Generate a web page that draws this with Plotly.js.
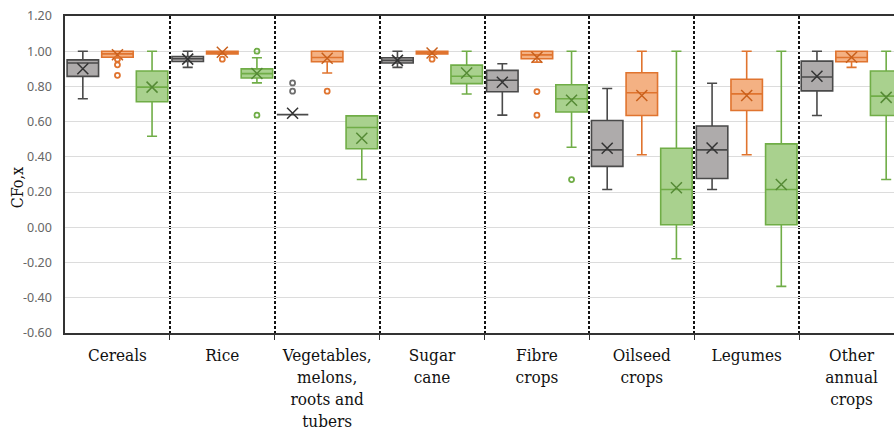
<!DOCTYPE html>
<html><head><meta charset="utf-8">
<script src="https://cdn.plot.ly/plotly-3.0.1.min.js"></script>
<style>html,body{margin:0;padding:0;overflow:hidden;background:#fff}</style>
</head><body><div id="chart" style="width:910px;height:432px"></div>
<script>
const categories = ["Cereals","Rice","Vegetables,<br>melons,<br>roots and<br>tubers","Sugar<br>cane","Fibre<br>crops","Oilseed<br>crops","Legumes","Other<br>annual<br>crops"];
const yTickVals = [-0.6,-0.4,-0.2,0,0.2,0.4,0.6,0.8,1.0,1.2];
const yTickText = ["-0.60","-0.40","-0.20","0.00","0.20","0.40","0.60","0.80","1.00","1.20"];

// Series 1 (grey)
const greyLower  = [0.730, 0.908, 0.640, 0.908, 0.637, 0.215, 0.215, 0.635];
const greyQ1     = [0.857, 0.942, 0.640, 0.933, 0.770, 0.346, 0.277, 0.775];
const greyMedian = [0.933, 0.957, 0.640, 0.948, 0.835, 0.440, 0.440, 0.854];
const greyQ3     = [0.951, 0.970, 0.640, 0.963, 0.891, 0.607, 0.575, 0.944];
const greyUpper  = [1.000, 1.000, 0.640, 1.000, 0.929, 0.788, 0.818, 1.000];
const greyMean   = [0.900, 0.955, 0.648, 0.948, 0.824, 0.449, 0.451, 0.858];
const greyOutliers = [[], [], [0.820, 0.773], [], [], [], [], []];

// Series 2 (orange)
const orangeLower  = [0.962, 0.983, 0.876, 0.983, 0.938, 0.412, 0.412, 0.908];
const orangeQ1     = [0.966, 0.985, 0.940, 0.985, 0.957, 0.635, 0.663, 0.940];
const orangeMedian = [0.985, 0.994, 0.964, 0.994, 0.979, 0.764, 0.758, 0.964];
const orangeQ3     = [1.000, 1.000, 1.000, 1.000, 1.000, 0.878, 0.841, 1.000];
const orangeUpper  = [1.000, 1.000, 1.000, 1.000, 1.000, 1.000, 1.000, 1.000];
const orangeMean   = [0.980, 0.994, 0.960, 0.990, 0.966, 0.749, 0.749, 0.966];
const orangeOutliers = [[0.955, 0.923, 0.863], [0.955], [0.773], [0.955], [0.771, 0.637], [], [], []];

// Series 3 (green)
const greenLower  = [0.517, 0.820, 0.272, 0.757, 0.455, -0.178, -0.335, 0.272];
const greenQ1     = [0.713, 0.848, 0.446, 0.816, 0.655, 0.015, 0.015, 0.635];
const greenMedian = [0.796, 0.873, 0.567, 0.858, 0.730, 0.215, 0.215, 0.745];
const greenQ3     = [0.888, 0.900, 0.633, 0.921, 0.810, 0.449, 0.474, 0.888];
const greenUpper  = [1.000, 0.963, 0.633, 1.000, 1.000, 1.000, 1.000, 1.000];
const greenMean   = [0.796, 0.873, 0.506, 0.876, 0.722, 0.225, 0.243, 0.738];
const greenOutliers = [[], [1.000, 0.637], [], [], [0.271], [], [], []];

const series = [
  {name:"Series 1", off:-0.33, fill:"#aeabab", line:"#4a4a4a", meanC:"#333333", outC:"#6e6e6e",
   lower:greyLower, q1:greyQ1, median:greyMedian, q3:greyQ3, upper:greyUpper, mean:greyMean, out:greyOutliers},
  {name:"Series 2", off:0, fill:"#f4b183", line:"#e0742f", meanC:"#c9601c", outC:"#e0742f",
   lower:orangeLower, q1:orangeQ1, median:orangeMedian, q3:orangeQ3, upper:orangeUpper, mean:orangeMean, out:orangeOutliers},
  {name:"Series 3", off:0.33, fill:"#a9d18e", line:"#70ad47", meanC:"#558a35", outC:"#70ad47",
   lower:greenLower, q1:greenQ1, median:greenMedian, q3:greenQ3, upper:greenUpper, mean:greenMean, out:greenOutliers}
];

const traces = [];
series.forEach(s => {
  const pos = categories.map((c, i) => i + s.off);
  traces.push({
    type:"box", name:s.name, x:pos,
    q1:s.q1, median:s.median, q3:s.q3, lowerfence:s.lower, upperfence:s.upper,
    width:0.30, whiskerwidth:0.32, boxpoints:false,
    fillcolor:s.fill, line:{color:s.line, width:1.6},
    showlegend:false, hoverinfo:"skip"
  });
  traces.push({
    type:"scatter", mode:"markers", x:pos, y:s.mean,
    marker:{symbol:"x-thin-open", size:11, color:s.meanC, line:{color:s.meanC, width:1.5}},
    showlegend:false, hoverinfo:"skip"
  });
  const ox = [], oy = [];
  s.out.forEach((arr, i) => arr.forEach(v => { ox.push(i + s.off); oy.push(v); }));
  traces.push({
    type:"scatter", mode:"markers", x:ox, y:oy,
    marker:{symbol:"circle-open", size:5, color:s.outC, line:{color:s.outC, width:1.8}},
    showlegend:false, hoverinfo:"skip"
  });
});

const boundaries = categories.slice(1).map((c, i) => i + 0.5);

const layout = {
  width:910, height:432,
  margin:{l:65, r:6, t:16, b:99},
  paper_bgcolor:"#fff", plot_bgcolor:"#fff",
  showlegend:false,
  xaxis:{
    range:[-0.5, categories.length - 0.5],
    tickmode:"array", tickvals:categories.map((c,i)=>i), ticktext:categories,
    ticks:"", showgrid:false, zeroline:false,
    showline:true, mirror:true, linecolor:"#333", linewidth:1.6,
    tickfont:{family:"'DejaVu Serif Condensed', 'DejaVu Serif', serif", size:17, color:"#111"},
    ticklabelstandoff:6,
    minor:{tickmode:"array", tickvals:boundaries, ticks:"outside", ticklen:5, tickcolor:"#333",
           showgrid:true, gridcolor:"#111", gridwidth:2, griddash:"3px,2px"}
  },
  yaxis:{
    range:[-0.6, 1.2], tickmode:"array", tickvals:yTickVals, ticktext:yTickText,
    ticks:"", showgrid:true, gridcolor:"#dcdcdc", gridwidth:1.2, zeroline:false,
    showline:true, mirror:true, linecolor:"#333", linewidth:1.6,
    tickfont:{family:"'Noto Sans', sans-serif", size:12.5, color:"#666"},
    ticklabelstandoff:9
  },
  annotations:[{
    text:"CFo,x", xref:"paper", yref:"paper", x:-0.057, y:0.457,
    textangle:-90, showarrow:false, xanchor:"center", yanchor:"middle",
    font:{family:"'DejaVu Serif Condensed', 'DejaVu Serif', serif", size:16, color:"#111"}
  }]
};

Plotly.newPlot("chart", traces, layout, {staticPlot:true, displayModeBar:false});
</script>
</body></html>
